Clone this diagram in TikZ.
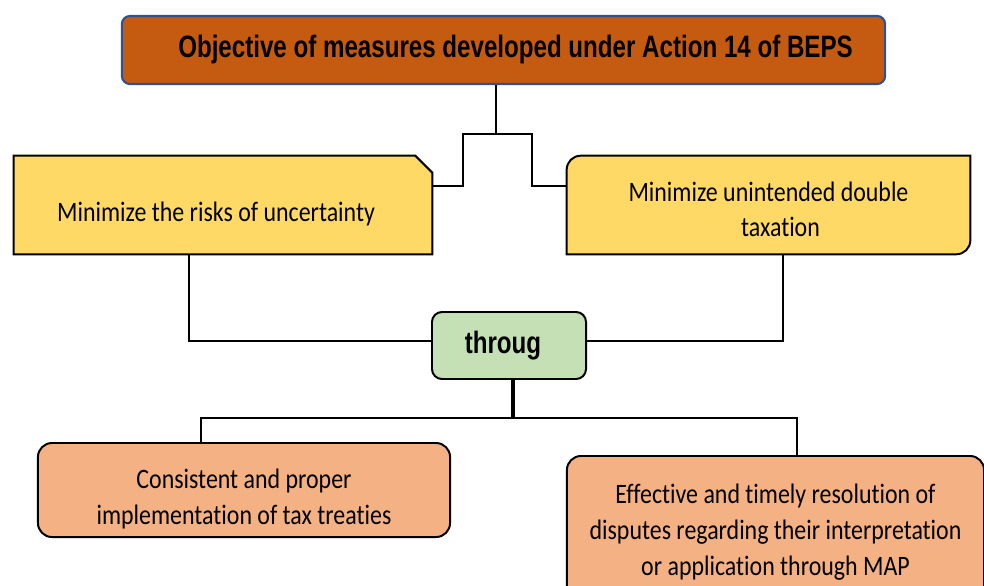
\documentclass[tikz,border=0pt]{standalone}
\usepackage{fontspec}
\setmainfont[FakeStretch=0.85,Ligatures=NoCommon]{Carlito}
\newfontfamily\headfont[FakeStretch=0.78]{Liberation Sans}
\usetikzlibrary{calc,backgrounds}

\definecolor{titlefill}{RGB}{197,90,17}
\definecolor{titleline}{RGB}{47,82,143}
\definecolor{goalfill}{RGB}{255,217,102}
\definecolor{wayfill}{RGB}{197,224,180}
\definecolor{meansfill}{RGB}{244,177,131}

\newcommand{\topstrut}[1]{\rule{0pt}{#1}}

\tikzset{
  conn/.style={line width=1.4pt, line join=miter},
  bodytext/.style={font=\fontsize{20}{25.5}\selectfont, align=center, text=black, inner sep=0pt},
  headtext/.style={font=\headfont\bfseries\fontsize{22}{26}\selectfont, text=black, inner sep=0pt},
  titlebox/.style={headtext, draw=titleline, fill=titlefill, line width=1.5pt, rounded corners=0.2cm},
  goalbox/.style={bodytext, minimum width=10.2cm, minimum height=2.45cm},
  waybox/.style={headtext, draw, fill=wayfill, line width=1.4pt, rounded corners=0.25cm,
    minimum width=3.85cm, minimum height=1.675cm},
  meansbox/.style={bodytext, draw, fill=meansfill, line width=1.4pt, rounded corners=0.35cm}
}

\begin{document}
\begin{tikzpicture}[x=0.025cm, y=-0.025cm]
    \useasboundingbox (0,0) rectangle (984,585);
    \clip (0,0) rectangle (984,585);

    % boxes
    \node[titlebox, minimum width=19.075cm, minimum height=1.7cm] (title) at (503.5,50)
        {\hspace*{0.6cm}Objective of measures developed under Action 14 of BEPS};
    \node[goalbox, minimum width=10.45cm] (uncert) at (223,205)
        {\topstrut{26pt}\hspace*{-0.35cm}Minimize the risks of uncertainty};
    \node[goalbox, minimum width=10.075cm] (double) at (768.5,205)
        {\topstrut{20pt}Minimize unintended double\\ \hspace*{0.6cm}taxation};
    \node[waybox] (through) at (509,345.5) {\hspace*{-0.3cm}throug};
    \node[meansbox, minimum width=10.3cm, minimum height=2.35cm] (treaty) at (244,490)
        {\topstrut{27pt}Consistent and proper\\implementation of tax treaties};
    \node[meansbox, minimum width=10.425cm, minimum height=3.65cm] (map) at (775.5,529)
        {\topstrut{18pt}Effective and timely resolution of\\disputes regarding their interpretation\\or application through MAP};

    % outlines of the two yellow boxes
    \begin{pgfonlayer}{background}
        \filldraw[conn, fill=goalfill] (uncert.south west) -- (uncert.north west)
            -- ($(uncert.north east)+(-17,0)$) -- ($(uncert.north east)+(0,17)$)
            -- (uncert.south east) -- cycle;
        \filldraw[conn, fill=goalfill] (double.west) [rounded corners=0.35cm] -- (double.north west)
            -- (double.north) [sharp corners] -- (double.north east) -- (double.east)
            [rounded corners=0.35cm] -- (double.south east) -- (double.south)
            [sharp corners] -- (double.south west) -- cycle;
    \end{pgfonlayer}

    % connectors
    \draw[conn] ($(title.south)+(-7.5,0)$) -- ++(0,49) coordinate (split);
    \draw[conn] (split) -- ++(-33,0) |- ($(uncert.east)+(0,-19)$);
    \draw[conn] (split) -- ++(36,0) |- ($(double.west)+(0,-19)$);
    \draw[conn] ($(uncert.south)+(-34,0)$) |- ($(through.west)+(0,-4.5)$);
    \draw[conn] ($(double.south)+(14.5,0)$) |- ($(through.east)+(0,-4.5)$);
    \draw[conn, line width=2.6pt] ($(through.south)+(4,0)$) -- ++(0,38) coordinate (fork);
    \draw[conn] ($(treaty.north)+(-43,0)$) |- (fork) -| ($(map.north)+(21.5,0)$);
\end{tikzpicture}
\end{document}
